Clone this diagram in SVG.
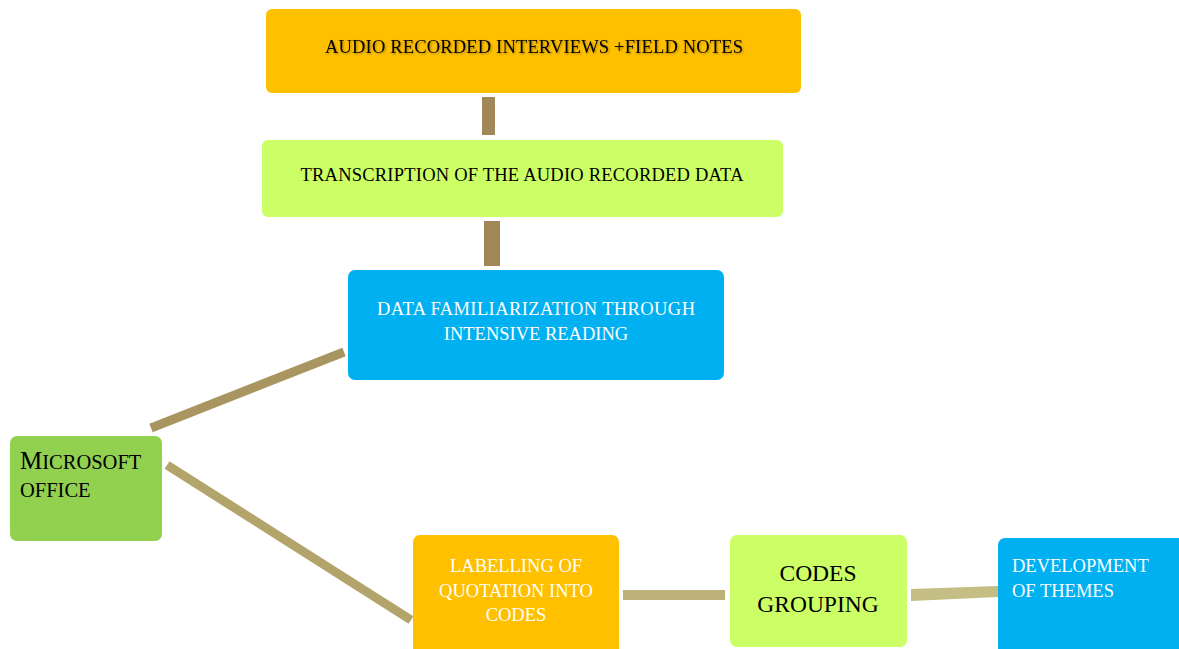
<svg xmlns="http://www.w3.org/2000/svg" width="1179" height="649" viewBox="0 0 1179 649">
<defs>
<style>
text{font-family:"Liberation Serif","Times New Roman",serif;font-size:18.5px}
.dk{fill:#000}
.wt{fill:#fff}
.orange{fill:#FFC000}
.lime{fill:#CCFF66}
.blue{fill:#00B0F0}
.green{fill:#92D050}
</style>
<filter id="sh" x="-10%" y="-50%" width="120%" height="200%">
<feGaussianBlur in="SourceAlpha" stdDeviation="1.2"/>
<feOffset dx="1" dy="1" result="b"/>
<feFlood flood-color="#000" flood-opacity="0.35"/>
<feComposite in2="b" operator="in"/>
<feMerge><feMergeNode/><feMergeNode in="SourceGraphic"/></feMerge>
</filter>
</defs>
<rect width="1179" height="649" fill="#fff"/>
<g id="connectors">
<rect x="482" y="97" width="13" height="38" fill="#A08658"/>
<rect x="484" y="221" width="16" height="45" fill="#A08658"/>
<line x1="151" y1="428" x2="344" y2="352" stroke="#A8955F" stroke-width="9"/>
<line x1="167" y1="465" x2="411" y2="620" stroke="#B3A46C" stroke-width="9"/>
<rect x="623" y="590" width="102" height="10" fill="#BDB37A"/>
<polygon points="911,589 998,586 998,597 911,601" fill="#C4BD84"/>
</g>
<g id="n1">
<rect class="orange" x="266" y="9" width="535" height="84" rx="6"/>
<text class="dk" x="534" y="53" text-anchor="middle" textLength="418" filter="url(#sh)">AUDIO RECORDED INTERVIEWS +FIELD NOTES</text>
</g>
<g id="n2">
<rect class="lime" x="262" y="140" width="521" height="77" rx="6"/>
<text class="dk" x="522" y="181" text-anchor="middle" textLength="443">TRANSCRIPTION OF THE AUDIO RECORDED DATA</text>
</g>
<g id="n3">
<rect class="blue" x="348" y="270" width="376" height="110" rx="7"/>
<text class="wt" x="536" y="315" text-anchor="middle" textLength="318">DATA FAMILIARIZATION THROUGH</text>
<text class="wt" x="536" y="340" text-anchor="middle">INTENSIVE READING</text>
</g>
<g id="n4">
<rect class="green" x="10" y="436" width="152" height="105" rx="7"/>
<text class="dk" x="20" y="469"><tspan style="font-size:25px">M</tspan><tspan style="font-size:20.5px">ICROSOFT</tspan></text>
<text class="dk" x="20" y="497" style="font-size:20.5px">OFFICE</text>
</g>
<g id="n5">
<rect class="orange" x="413" y="535" width="206" height="120" rx="7"/>
<text class="wt" x="516" y="572" text-anchor="middle">LABELLING OF</text>
<text class="wt" x="516" y="597" text-anchor="middle">QUOTATION INTO</text>
<text class="wt" x="516" y="621" text-anchor="middle">CODES</text>
</g>
<g id="n6">
<rect class="lime" x="730" y="535" width="177" height="112" rx="7"/>
<text class="dk" x="818" y="581" text-anchor="middle" style="font-size:23.5px">CODES</text>
<text class="dk" x="818" y="612" text-anchor="middle" style="font-size:23.5px">GROUPING</text>
</g>
<g id="n7">
<rect class="blue" x="998" y="538" width="200" height="120" rx="7"/>
<text class="wt" x="1012" y="572">DEVELOPMENT</text>
<text class="wt" x="1012" y="597">OF THEMES</text>
</g>
</svg>
